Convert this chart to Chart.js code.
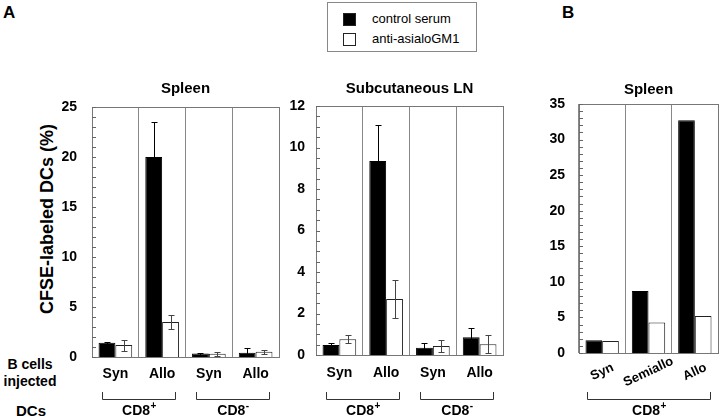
<!DOCTYPE html>
<html>
<head>
<meta charset="utf-8">
<script src="https://cdn.jsdelivr.net/npm/chart.js@4.4.0/dist/chart.umd.min.js"></script>
<style>
  body { margin: 0; width: 720px; height: 418px; position: relative; background: #fff; overflow: hidden;
         font-family: 'Liberation Sans', Arial, Helvetica, sans-serif; color: #000; }
  .abs { position: absolute; }
  .panel { position: absolute; }
  .bold { font-weight: bold; }
  .legend { left: 327px; top: 2px; width: 148px; height: 48px; border: 1px solid #888; }
  .sw { position: absolute; width: 11px; height: 11px; border: 1px solid #222; }
  .lt { position: absolute; left: 44px; font-size: 13px; line-height: 16px; white-space: nowrap; }
</style>
</head>
<body>
<div class="abs bold" style="left:3px;top:5px;font-size:17px;line-height:16px;">A</div>
<div class="abs bold" style="left:562px;top:5px;font-size:17px;line-height:16px;">B</div>

<div class="abs legend">
  <div class="sw" style="left:15px;top:10px;background:#000;"></div>
  <div class="lt" style="top:8px;">control serum</div>
  <div class="sw" style="left:15px;top:30px;background:#fff;"></div>
  <div class="lt" style="top:28px;">anti-asialoGM1</div>
</div>

<div class="abs bold" style="left:-73px;top:208px;width:240px;height:22px;line-height:22px;font-size:18px;text-align:center;transform:rotate(-90deg);">CFSE-labeled DCs (%)</div>
<div class="abs bold" style="left:0;top:356px;width:60px;font-size:14px;line-height:17px;text-align:center;">B cells<br>injected</div>
<div class="abs bold" style="left:0;top:402px;width:62px;font-size:15px;line-height:18px;text-align:center;">DCs</div>

<div class="panel" style="left:60px;top:75px;width:226px;height:343px;"><canvas id="spleenChart"></canvas></div>
<div class="panel" style="left:290px;top:74px;width:216px;height:344px;"><canvas id="lnChart"></canvas></div>
<div class="panel" style="left:550px;top:72px;width:170px;height:346px;"><canvas id="spleenBChart"></canvas></div>

<script>
// categories
const bCellsA = ['Syn', 'Allo', 'Syn', 'Allo'];
const bCellsB = ['Syn', 'Semiallo', 'Allo'];
const dcGroupsA = [{ from: 0, to: 1, sign: '+' }, { from: 2, to: 3, sign: '-' }];
const dcGroupsB = [{ from: 0, to: 2, sign: '+' }];

// panel A, spleen (%)
const spleenControl = [1.43, 20.0, 0.35, 0.43];
const spleenControlErr = [0.1, 3.5, 0.1, 0.45];
const spleenAnti = [1.2, 3.5, 0.33, 0.53];
const spleenAntiErr = [0.55, 0.7, 0.2, 0.2];

// panel A, subcutaneous LN (%)
const lnControl = [0.48, 9.35, 0.35, 0.85];
const lnControlErr = [0.1, 1.75, 0.25, 0.43];
const lnAnti = [0.76, 2.7, 0.43, 0.52];
const lnAntiErr = [0.2, 0.9, 0.27, 0.43];

// panel B, spleen (%)
const spleenBControl = [1.8, 8.7, 32.7];
const spleenBAnti = [1.7, 4.3, 5.2];

const FONT = "'Liberation Sans', Arial, Helvetica, sans-serif";

const panelDecor = {
    id: 'panelDecor',
    afterDatasetsDraw(chart, args, opts) {
        const ctx = chart.ctx;
        const area = chart.chartArea;
        const y = chart.scales.y;
        ctx.save();
        ctx.lineWidth = 1;

        // error bars
        chart.data.datasets.forEach(function(ds, di) {
            if (!ds.errors) return;
            ctx.strokeStyle = ds.errorColor;
            chart.getDatasetMeta(di).data.forEach(function(bar, i) {
                const v = ds.data[i];
                const e = ds.errors[i];
                const top = Math.round(y.getPixelForValue(v + e)) + 0.5;
                const bot = Math.round(y.getPixelForValue(Math.max(v - e, 0))) + 0.5;
                const bx = Math.round(bar.x) + 0.5;
                ctx.beginPath();
                ctx.moveTo(bx, top); ctx.lineTo(bx, bot);
                ctx.moveTo(bx - 3, top); ctx.lineTo(bx + 3, top);
                ctx.moveTo(bx - 3, bot); ctx.lineTo(bx + 3, bot);
                ctx.stroke();
            });
        });

        // frame
        ctx.strokeStyle = '#777';
        ctx.strokeRect(Math.round(area.left) + 0.5, Math.round(area.top) + 0.5,
            Math.round(area.width), Math.round(area.height));

        // inward ticks on the y axis
        ctx.strokeStyle = '#666';
        ctx.beginPath();
        for (let v = y.min; v <= y.max + 1e-9; v += opts.minor) {
            const py = Math.round(y.getPixelForValue(v)) + 0.5;
            ctx.moveTo(area.left, py);
            ctx.lineTo(area.left + 4, py);
        }
        ctx.stroke();
        ctx.restore();
    },
    afterDraw(chart, args, opts) {
        const ctx = chart.ctx;
        const area = chart.chartArea;
        const x = chart.scales.x;
        ctx.save();

        // rotated category labels
        if (opts.rotated) {
            ctx.font = 'bold 13px ' + FONT;
            ctx.fillStyle = '#000';
            ctx.textAlign = 'center';
            ctx.textBaseline = 'middle';
            chart.data.labels.forEach(function(label, i) {
                ctx.save();
                ctx.translate(x.getPixelForValue(i), area.bottom + 19);
                ctx.rotate(-25 * Math.PI / 180);
                ctx.fillText(label, 0, 0);
                ctx.restore();
            });
        }

        // DC brackets
        const h = chart.height;
        ctx.strokeStyle = '#333';
        ctx.lineWidth = 1;
        opts.groups.forEach(function(g) {
            const x0 = Math.round(x.getPixelForValue(g.from) - opts.pad) + 0.5;
            const x1 = Math.round(x.getPixelForValue(g.to) + opts.pad) + 0.5;
            const yTop = h - 26;
            const yLine = h - 18.5;
            ctx.beginPath();
            ctx.moveTo(x0, yTop); ctx.lineTo(x0, yLine); ctx.lineTo(x1, yLine); ctx.lineTo(x1, yTop);
            ctx.stroke();

            const cx = (x0 + x1) / 2;
            ctx.fillStyle = '#000';
            ctx.textBaseline = 'middle';
            ctx.font = 'bold 14px ' + FONT;
            const w1 = ctx.measureText('CD8').width;
            ctx.font = 'bold 10px ' + FONT;
            const w2 = ctx.measureText(g.sign).width;
            const sx = cx - (w1 + w2) / 2;
            ctx.textAlign = 'left';
            ctx.font = 'bold 14px ' + FONT;
            ctx.fillText('CD8', sx, h - 7);
            ctx.font = 'bold 10px ' + FONT;
            ctx.fillText(g.sign, sx + w1 + 0.5, h - 12);
        });
        ctx.restore();
    }
};

function makePanel(id, cfg) {
    const canvas = document.getElementById(id);
    return new Chart(canvas.getContext('2d'), {
        type: 'bar',
        data: {
            labels: cfg.labels,
            datasets: [{
                label: 'control serum',
                data: cfg.control,
                errors: cfg.controlErr,
                errorColor: '#000',
                backgroundColor: '#000',
                borderColor: '#000',
                borderWidth: 1,
                categoryPercentage: 0.72,
                barPercentage: 1.0
            }, {
                label: 'anti-asialoGM1',
                data: cfg.anti,
                errors: cfg.antiErr,
                errorColor: '#444',
                backgroundColor: '#fff',
                borderColor: '#222',
                borderWidth: 1,
                categoryPercentage: 0.72,
                barPercentage: 1.0
            }]
        },
        options: {
            responsive: true,
            maintainAspectRatio: false,
            animation: false,
            layout: { padding: { left: 0, right: cfg.padRight, top: 0, bottom: cfg.padBottom } },
            scales: {
                x: {
                    offset: true,
                    grid: { display: true, offset: true, drawTicks: false, color: '#888', lineWidth: 1 },
                    border: { display: true, color: '#777', width: 1 },
                    ticks: {
                        display: !cfg.rotated,
                        color: '#000',
                        padding: cfg.xPad,
                        maxRotation: 0,
                        font: { family: FONT, size: 14, weight: 'bold' }
                    },
                    afterFit: function(scale) { scale.height = 33; }
                },
                y: {
                    min: 0,
                    max: cfg.max,
                    grid: { display: false },
                    border: { display: true, color: '#777', width: 1 },
                    ticks: {
                        stepSize: cfg.step,
                        color: '#000',
                        padding: cfg.yPad,
                        font: { family: FONT, size: 14, weight: 'bold' }
                    },
                    afterFit: function(scale) { scale.width = cfg.yWidth; }
                }
            },
            plugins: {
                legend: { display: false },
                tooltip: { enabled: false },
                title: {
                    display: true,
                    text: cfg.title,
                    fullSize: false,
                    color: '#000',
                    font: { family: FONT, size: 15, weight: 'bold' },
                    padding: cfg.titlePad
                },
                panelDecor: { minor: cfg.minor, groups: cfg.groups, pad: cfg.bracketPad, rotated: cfg.rotated }
            }
        },
        plugins: [panelDecor]
    });
}

makePanel('spleenChart', {
    labels: bCellsA, control: spleenControl, controlErr: spleenControlErr,
    anti: spleenAnti, antiErr: spleenAntiErr,
    title: 'Spleen', titlePad: { top: 5, bottom: 9 },
    max: 25, step: 5, minor: 1, yWidth: 32, yPad: 7, xPad: 9,
    padRight: 7, padBottom: 28, groups: dcGroupsA, bracketPad: 13, rotated: false
});

makePanel('lnChart', {
    labels: bCellsA, control: lnControl, controlErr: lnControlErr,
    anti: lnAnti, antiErr: lnAntiErr,
    title: 'Subcutaneous LN', titlePad: { top: 6, bottom: 8 },
    max: 12, step: 2, minor: 0.5, yWidth: 26, yPad: 3, xPad: 10,
    padRight: 3, padBottom: 30, groups: dcGroupsA, bracketPad: 13, rotated: false
});

makePanel('spleenBChart', {
    labels: bCellsB, control: spleenBControl, controlErr: null,
    anti: spleenBAnti, antiErr: null,
    title: 'Spleen', titlePad: { top: 9, bottom: 5 },
    max: 35, step: 5, minor: 1, yWidth: 29, yPad: 6, xPad: 10,
    padRight: 2, padBottom: 32, groups: dcGroupsB, bracketPad: 15, rotated: true
});
</script>
</body>
</html>
